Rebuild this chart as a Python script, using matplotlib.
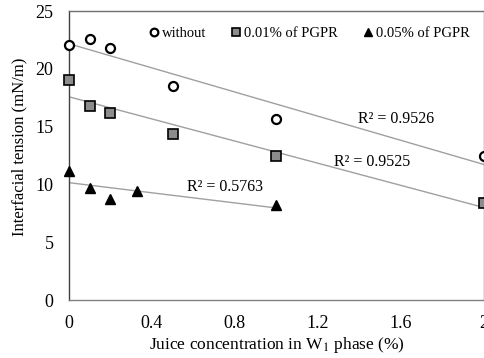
import numpy as np
import matplotlib
matplotlib.use("Agg")
import matplotlib.pyplot as plt

plt.rcParams["font.family"] = ["Liberation Serif", "DejaVu Serif"]
plt.rcParams["mathtext.fontset"] = "stix"

# data
x_without = [0, 0.1, 0.2, 0.5, 1.0, 2.0]
y_without = [22.1, 22.6, 21.8, 18.5, 15.7, 12.5]
x_pgpr01 = [0, 0.1, 0.2, 0.5, 1.0, 2.0]
y_pgpr01 = [19.0, 16.8, 16.2, 14.4, 12.5, 8.4]
x_pgpr05 = [0, 0.1, 0.2, 0.33, 1.0]
y_pgpr05 = [11.2, 9.7, 8.7, 9.4, 8.2]
r2_labels = ["R² = 0.9526", "R² = 0.9525", "R² = 0.5763"]
x_ticks = [0, 0.4, 0.8, 1.2, 1.6, 2]
x_ticklabels = ["0", "0.4", "0.8", "1.2", "1.6", "2"]
y_ticks = [0, 5, 10, 15, 20, 25]

fig = plt.figure(figsize=(4.85, 3.58), dpi=100)
ax = fig.add_axes([0.142, 0.162, 0.856, 0.807])

series = [
    (x_without, y_without, dict(marker="o", mfc="white", mec="black", ms=6.5, mew=1.6), "without"),
    (x_pgpr01, y_pgpr01, dict(marker="s", mfc="#8c8c8c", mec="black", ms=6.5, mew=1.2), "0.01% of PGPR"),
    (x_pgpr05, y_pgpr05, dict(marker="^", mfc="black", mec="black", ms=7), "0.05% of PGPR"),
]

for xs, ys, style, name in series:
    xs = np.array(xs)
    ys = np.array(ys)
    k, b = np.polyfit(xs, ys, 1)
    xl = np.array([xs.min(), xs.max()])
    ax.plot(xl, k * xl + b, color="#a0a0a0", lw=1, zorder=1)
    ax.plot(xs, ys, ls="none", label=name, zorder=3, clip_on=False, **style)

ax.text(1.575, 15.7, r2_labels[0], fontsize=11.5, ha="center", va="center")
ax.text(1.46, 11.9, r2_labels[1], fontsize=11.5, ha="center", va="center")
ax.text(0.75, 9.8, r2_labels[2], fontsize=11.5, ha="center", va="center")

ax.set_xlim(0, 2)
ax.set_ylim(0, 25)
ax.set_xticks(x_ticks)
ax.set_xticklabels(x_ticklabels)
ax.set_yticks(y_ticks)
ax.tick_params(length=0, labelsize=13)
ax.tick_params(axis="y", pad=11)
ax.tick_params(axis="x", pad=11)
for s in ax.spines.values():
    s.set_color("#707070")
    s.set_linewidth(1)
ax.spines["left"].set_color("#404040")
ax.spines["bottom"].set_color("#808080")

ax.set_xlabel("Juice concentration in W$_1$ phase (%)", fontsize=12.5, labelpad=2)
ax.set_ylabel("Interfacial tension (mN/m)", fontsize=12, labelpad=6, y=0.53)

ax.legend(loc="upper center", bbox_to_anchor=(0.575, 0.99), ncol=3, frameon=False,
          fontsize=10.5, handletextpad=0.0, columnspacing=1.5, handlelength=1.1,
          markerscale=0.85)

fig.savefig("out.png", dpi=100)
